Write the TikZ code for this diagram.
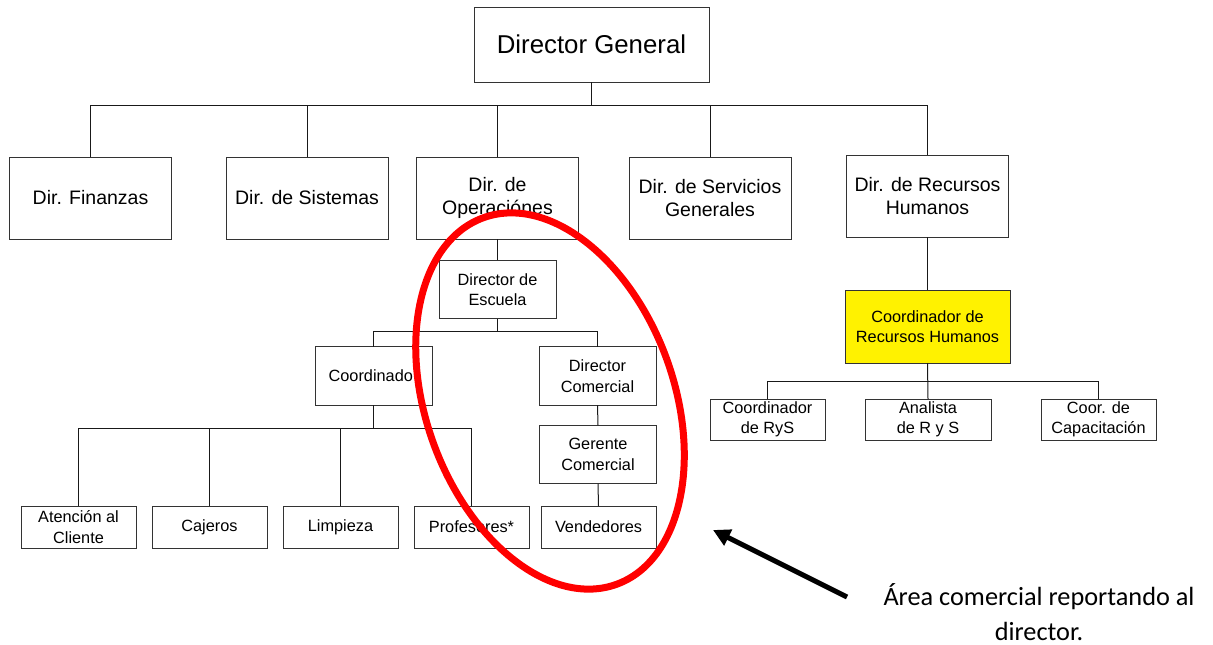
\documentclass[tikz,border=0pt]{standalone}
\usepackage{fontspec}
\setmainfont{Liberation Sans}
\newfontfamily\notefont{Carlito}
\usetikzlibrary{arrows.meta}

\begin{document}
\begin{tikzpicture}[x=1pt,y=-1pt,
  box/.style={draw=black!80, line width=1pt, fill=white, inner sep=0pt, outer sep=0pt,
              align=center, anchor=center},
  topbox/.style={box, font=\fontsize{25.8}{31}\selectfont},
  bigbox/.style={box, minimum width=162pt, minimum height=82pt, font=\fontsize{19.5}{23.5}\selectfont},
  smallbox/.style={box, font=\fontsize{16.3}{20.5}\selectfont},
  leafbox/.style={smallbox, minimum width=115pt, minimum height=42pt},
  midbox/.style={smallbox, minimum width=117pt, minimum height=58.5pt},
  link/.style={draw=black!90, line width=1pt},
  highlight/.style={draw=red, line width=7pt},
  pointer/.style={draw=black, line width=5pt, -{Triangle[length=17pt,width=17pt]}}]

\useasboundingbox (0,0) rectangle (1213,645);

% top of the chart
\node[topbox, minimum width=235pt, minimum height=75pt] (dg) at (591.5,44.5) {Director General};

% directors
\node[bigbox] (fin) at (90.5,198) {Dir. Finanzas};
\node[bigbox] (sis) at (307,198) {Dir. de Sistemas};
\node[bigbox] (ops) at (497.5,198) {Dir. de\\Operaciónes};
\node[bigbox] (ser) at (710,198) {Dir. de Servicios\\Generales};
\node[bigbox] (rh)  at (927.5,196) {Dir. de Recursos\\Humanos};

\coordinate (bus1) at (0,105);
\draw[link] (dg.south) -- (dg.south |- bus1);
\draw[link] (fin.north) -- (fin.north |- bus1) -- (rh.north |- bus1) -- (rh.north);
\draw[link] (sis.north) -- (sis.north |- bus1);
\draw[link] (ops.north) -- (ops.north |- bus1);
\draw[link] (ser.north) -- (ser.north |- bus1);

% human resources branch
\node[smallbox, fill=yellow, minimum width=165pt, minimum height=73pt] (crh) at (927.5,326.5) {Coordinador de\\Recursos Humanos};
\node[smallbox, minimum width=115pt, minimum height=41pt] (rys) at (767.5,419.5) {Coordinador\\de RyS};
\node[smallbox, minimum width=126pt, minimum height=41pt] (ana) at (928,419.5) {Analista\\de R y S};
\node[smallbox, minimum width=115pt, minimum height=41pt] (cap) at (1098.5,419.5) {Coor. de\\Capacitación};

\coordinate (bus4) at (0,381);
\draw[link] (rh.south) -- (crh.north);
\draw[link] (crh.south) -- (ana.north);
\draw[link] (rys.north) -- (rys.north |- bus4) -- (cap.north |- bus4) -- (cap.north);

% operations branch
\node[midbox] (esc) at (497.5,289.5) {Director de\\Escuela};
\node[midbox] (coord) at (373.5,376) {Coordinado\phantom{r}};
\node[midbox] (dcom) at (597.5,376) {Director\\Comercial};
\node[midbox] (ger) at (598,454.5) {Gerente\\Comercial};

\node[leafbox] (ate) at (78.5,527) {Atención al\\Cliente};
\node[leafbox] (caj) at (209.5,527) {Cajeros};
\node[leafbox] (lim) at (340.5,527) {Limpieza};
\node[leafbox] (pro) at (471.5,527) {Profesores*};
\node[leafbox] (ven) at (598.5,527) {Vendedores};

\coordinate (bus2) at (0,331);
\coordinate (bus3) at (0,428);
\draw[link] (ops.south) -- (esc.north);
\draw[link] (esc.south) -- (esc.south |- bus2);
\draw[link] (coord.north) -- (coord.north |- bus2) -- (dcom.north |- bus2) -- (dcom.north);
\draw[link] (dcom.south) -- (ger.north);
\draw[link] (ger.south) -- (ven.north);
\draw[link] (coord.south) -- (coord.south |- bus3);
\draw[link] (ate.north) -- (ate.north |- bus3) -- (pro.north |- bus3) -- (pro.north);
\draw[link] (caj.north) -- (caj.north |- bus3);
\draw[link] (lim.north) -- (lim.north |- bus3);

% red mark around the commercial area
\coordinate (ring) at (550,401);
\draw[highlight, rotate around={20:(ring)}] (ring) ellipse [x radius=124pt, y radius=195pt];

% note with its arrow
\node[font=\notefont\fontsize{26.3}{35}\selectfont, align=center, anchor=north] (note) at (1039,580)
  {Área comercial reportando al\\director.};
\coordinate (tail) at (847,597);
\coordinate (tip) at (713,530);
\draw[pointer] (tail) -- (tip);

\end{tikzpicture}
\end{document}
